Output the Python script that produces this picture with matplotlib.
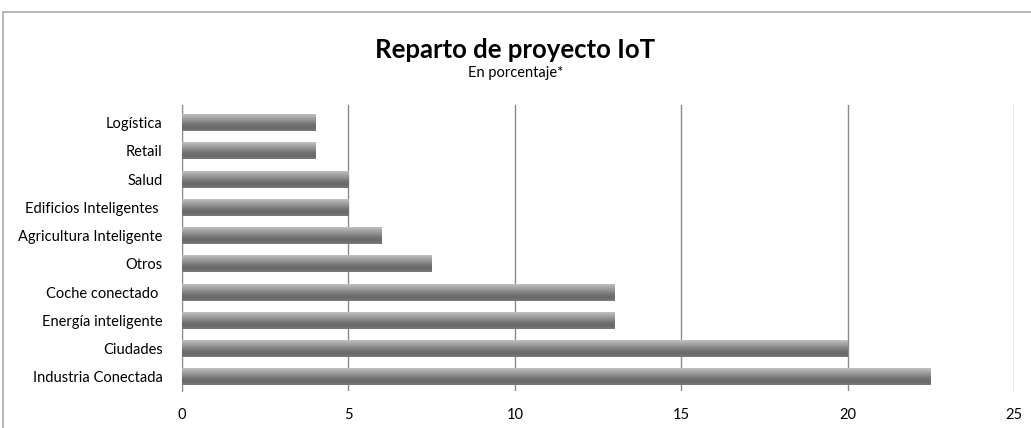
import numpy as np
import matplotlib.pyplot as plt
from matplotlib.patches import Rectangle
from matplotlib.colors import LinearSegmentedColormap

plt.rcParams['font.family'] = ['Lato', 'DejaVu Sans']

categorias = ["Industria Conectada", "Ciudades", "Energía inteligente", "Coche conectado ",
              "Otros", "Agricultura Inteligente", "Edificios Inteligentes ", "Salud",
              "Retail", "Logística"]
valores = [22.5, 20, 13, 13, 7.5, 6, 5, 5, 4, 4]
ticks_x = [0, 5, 10, 15, 20, 25]

fig = plt.figure(figsize=(10.31, 4.28), dpi=100)
ax = fig.add_axes([0.1765, 0.0864, 0.807, 0.668])

# frame around the whole chart
fig.patches.append(Rectangle((3 / 1031, -0.1), 1.2, 1 - 12 / 428 + 0.1,
                             transform=fig.transFigure, fill=False,
                             edgecolor="#aaaaaa", linewidth=1.2))

y = np.arange(len(categorias))
alto = 0.6
bars = ax.barh(y, valores, height=alto, color="#999999", zorder=2)

# cylinder-like shading on each bar (light on top, dark near bottom)
cmap = LinearSegmentedColormap.from_list(
    "cil", ["#c0c0c0", "#a6a6a6", "#8e8e8e", "#747474", "#686868", "#7a7a7a"])
grad = np.linspace(0, 1, 64).reshape(-1, 1)
for b in bars:
    x0, y0 = b.get_x(), b.get_y()
    w, h = b.get_width(), b.get_height()
    im = ax.imshow(grad, cmap=cmap, aspect="auto", zorder=3,
                   extent=[x0, x0 + w, y0 + h, y0], origin="lower")
    im.set_clip_path(b)

ax.set_xlim(0, 25)
ax.set_ylim(-0.5, len(categorias) - 0.5 + 0.12)
ax.set_xticks(ticks_x)
ax.set_yticks(y)
ax.set_yticklabels(categorias)
ax.tick_params(axis="both", length=0, labelsize=10.5, colors="#000000")
ax.tick_params(axis="y", pad=14)
ax.tick_params(axis="x", pad=12)
ax.xaxis.grid(True, color="#8a8a8a", linewidth=1, zorder=0)
ax.set_axisbelow(True)
for s in ["top", "right", "bottom"]:
    ax.spines[s].set_visible(False)
ax.spines["left"].set_color("#8a8a8a")

fig.text(0.5, 1 - 58 / 428, "Reparto de proyecto IoT", ha="center", va="baseline",
         fontsize=18.5, fontweight="bold")
fig.text(0.5, 1 - 77 / 428, "En porcentaje*", ha="center", va="baseline", fontsize=10.5)

fig.savefig("out.png", dpi=100)
